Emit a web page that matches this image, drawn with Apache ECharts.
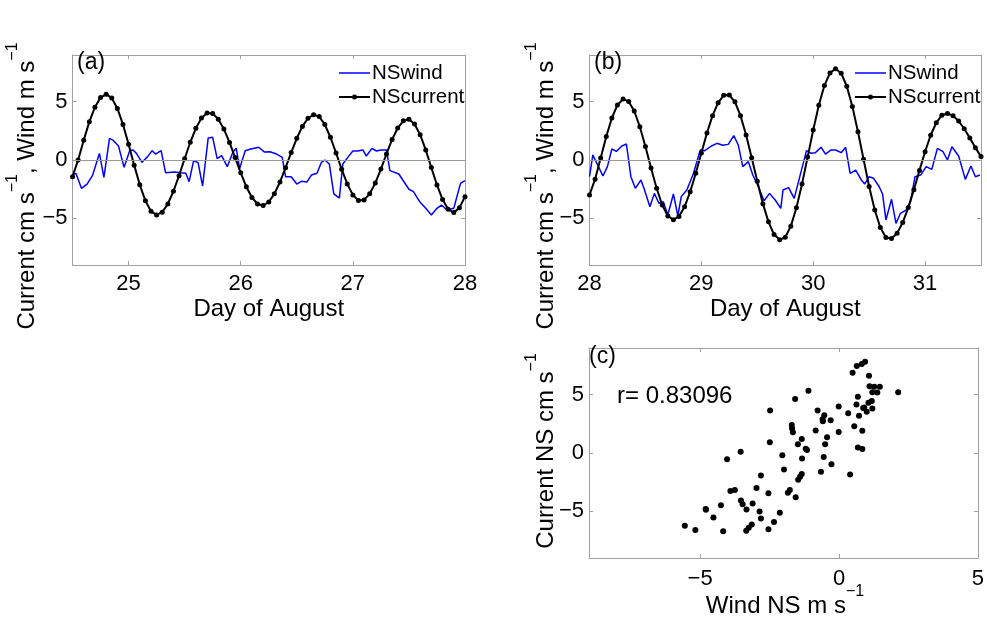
<!DOCTYPE html>
<html><head><meta charset="utf-8">
<script src="https://cdn.jsdelivr.net/npm/echarts@6/dist/echarts.min.js"></script>
<style>html,body{margin:0;padding:0;background:#fff}#c{width:987px;height:623px}</style>
</head><body><div id="c"></div>
<script>
// ---------------- data ----------------
// Panel (a): 24.5 - 28 August
const curA_start = 24.5;
const curStep = 0.05; // days between current samples
const curA = [-1.43,0.00,1.70,3.27,4.53,5.35,5.63,5.32,4.42,3.05,1.36,-0.44,-2.13,-3.50,-4.40,-4.71,-4.47,-3.77,-2.68,-1.34,0.11,1.52,2.72,3.59,4.02,3.98,3.50,2.65,1.51,0.21,-1.10,-2.29,-3.21,-3.77,-3.90,-3.60,-2.90,-1.89,-0.66,0.64,1.86,2.88,3.58,3.88,3.72,3.04,1.95,0.61,-0.79,-2.05,-2.99,-3.47,-3.42,-2.90,-1.98,-0.78,0.52,1.76,2.74,3.36,3.50,3.09,2.17,0.86,-0.65,-2.14,-3.39,-4.22,-4.51,-4.10,-3.14];
const windA_day = [24.50,24.53,24.58,24.63,24.68,24.74,24.78,24.83,24.86,24.91,24.96,25.01,25.04,25.07,25.12,25.17,25.21,25.24,25.29,25.33,25.41,25.46,25.51,25.54,25.58,25.62,25.66,25.71,25.75,25.79,25.83,25.88,25.93,25.96,25.99,26.04,26.09,26.16,26.21,26.26,26.32,26.37,26.40,26.45,26.50,26.54,26.59,26.63,26.68,26.72,26.75,26.79,26.83,26.88,26.91,26.96,27.00,27.04,27.09,27.12,27.17,27.21,27.25,27.30,27.33,27.41,27.50,27.54,27.60,27.65,27.70,27.75,27.79,27.84,27.90,27.96,28.00];
const windA = [-1.29,-1.14,-2.43,-2.06,-1.29,0.57,-1.49,1.86,1.71,1.20,-0.63,0.80,0.86,0.57,-0.20,0.29,0.80,0.51,0.80,-1.09,-1.03,-1.09,-1.14,-1.86,-0.06,-0.23,-2.23,1.89,1.94,0.11,0.37,-0.57,0.66,1.00,-0.74,0.80,0.94,1.09,0.69,0.71,0.51,0.23,-1.43,-1.43,-2.06,-1.83,-1.89,-1.29,-1.14,-0.20,0.00,-0.34,-2.91,-3.26,-0.34,0.29,0.77,0.77,0.86,0.34,1.00,0.77,0.86,0.86,-0.91,-1.20,-2.51,-2.71,-3.63,-4.14,-4.71,-4.14,-3.86,-4.29,-4.14,-2.00,-1.77];

// Panel (b): 28 - 31.5 August
const curB_start = 28.0;
const curB = [-3.00,-1.64,0.17,2.01,3.60,4.72,5.22,5.02,4.20,2.85,1.15,-0.68,-2.42,-3.86,-4.79,-5.12,-4.84,-4.01,-2.73,-1.14,0.60,2.31,3.80,4.91,5.54,5.57,4.99,3.80,2.14,0.20,-1.83,-3.74,-5.30,-6.39,-6.84,-6.62,-5.67,-4.09,-2.05,0.25,2.57,4.69,6.38,7.46,7.83,7.44,6.32,4.59,2.42,0.06,-2.27,-4.28,-5.79,-6.65,-6.73,-6.28,-5.36,-4.08,-2.54,-0.89,0.71,2.12,3.19,3.84,3.99,3.80,3.34,2.68,1.89,1.06,0.29];
const windB_day = [28.00,28.03,28.08,28.12,28.16,28.20,28.24,28.29,28.33,28.37,28.41,28.46,28.49,28.54,28.58,28.62,28.66,28.70,28.75,28.79,28.82,28.87,28.93,28.99,29.03,29.09,29.14,29.19,29.24,29.29,29.33,29.37,29.42,29.46,29.51,29.56,29.61,29.66,29.71,29.73,29.78,29.83,29.88,29.94,29.98,30.02,30.07,30.11,30.16,30.20,30.25,30.29,30.33,30.38,30.43,30.46,30.50,30.54,30.59,30.62,30.65,30.70,30.74,30.78,30.83,30.87,30.91,30.96,31.01,31.06,31.11,31.16,31.20,31.24,31.30,31.36,31.41,31.45,31.49];
const windB = [-1.43,0.43,-0.57,-1.37,-0.57,0.94,0.74,1.20,1.37,-1.43,-2.43,-1.71,-2.51,-4.00,-2.86,-3.71,-3.57,-4.71,-2.91,-4.80,-3.14,-2.57,-1.14,0.86,0.80,1.20,1.43,1.26,1.34,2.09,1.29,-0.57,-0.14,-1.29,-2.29,-3.49,-2.86,-3.43,-4.14,-2.57,-2.37,-3.29,-1.43,0.80,0.57,0.63,1.09,0.51,0.86,0.86,0.63,1.09,-1.14,-0.86,-1.71,-2.06,-1.43,-1.57,-2.29,-2.91,-5.14,-3.37,-5.43,-4.57,-4.29,-3.57,-1.43,-1.29,-0.57,-0.80,1.00,0.71,0.00,1.14,0.34,-1.66,-0.51,-1.43,-1.29];

// Panel (c): scatter wind vs current
const windNS = [-5.55,-5.17,-4.80,-4.79,-4.52,-4.25,-4.17,-4.03,-3.91,-3.75,-3.54,-3.53,-3.47,-3.33,-3.11,-3.34,-3.25,-3.14,-2.97,-2.86,-2.81,-2.81,-2.54,-2.54,-2.34,-2.48,-2.49,-2.13,-2.04,-1.98,-1.84,-1.77,-1.70,-1.69,-1.66,-1.58,-1.56,-1.48,-1.47,-1.40,-1.34,-1.34,-1.33,-1.20,-1.15,-1.10,-0.84,-0.77,-0.65,-0.59,-0.58,-0.53,-0.50,-0.55,-0.43,-0.30,-0.27,-0.01,-0.01,0.33,0.40,0.49,0.55,0.64,0.68,0.63,0.68,0.72,0.82,0.87,0.84,0.91,0.84,0.94,1.00,1.06,1.08,1.10,1.18,1.20,1.20,1.27,1.38,1.47,2.13];
const currentNS = [-6.23,-6.60,-4.79,-4.87,-5.52,-4.48,-6.71,-0.54,-3.26,-3.17,0.11,-4.08,-4.39,-4.84,-4.33,-6.66,-6.40,-6.12,-3.00,-5.01,-5.61,-1.93,-3.46,-6.54,-5.92,3.65,0.93,-5.13,-0.20,-1.42,-3.40,-3.17,2.41,2.12,1.78,4.62,-3.80,0.76,-2.29,-2.04,-1.81,1.19,-0.48,0.37,0.25,5.33,1.93,3.65,-1.61,2.89,2.72,3.23,0.76,-0.34,1.36,2.80,-0.96,3.99,1.81,3.40,-1.84,6.88,2.29,7.45,4.82,4.16,0.48,3.20,7.62,3.85,0.34,3.91,1.90,7.82,3.54,4.31,6.63,5.72,4.45,3.82,5.21,5.67,5.18,5.67,5.21];

// tick labels and texts
const ticksA = [25, 26, 27, 28];
const ticksB = [28, 29, 30, 31];
const ticksY = [-5, 0, 5];
const ticksCx = [-5, 0, 5];
const corrText = 'r= 0.83096';
const legendNames = ['NSwind', 'NScurrent'];

// ---------------- build ----------------
const FF = '"Liberation Sans", Arial, sans-serif';
const FRAME = '#a0a0a0';
const WIND_C = '#0000ff';
const fmt = v => (v < 0 ? '\u2212' + Math.abs(v) : String(v));

function timeSeries(start, vals) { return vals.map((v, i) => [+(start + i * curStep).toFixed(3), v]); }
function pairs(xs, ys) { return xs.map((x, i) => [x, ys[i]]); }

function axis(gridIndex, min, max, ticks, position, showLabel, margin) {
  return {
    type: 'value', gridIndex, min, max, position,
    axisLine: { show: true, onZero: false, lineStyle: { color: FRAME, width: 1 } },
    axisTick: { show: true, inside: true, length: 4, customValues: ticks, lineStyle: { color: FRAME } },
    axisLabel: { show: showLabel, customValues: ticks, formatter: fmt, color: '#000', fontSize: 22, fontFamily: FF, margin: margin },
    splitLine: { show: false }
  };
}

const grids = [
  { left: 72.5, top: 55, width: 392.5, height: 210 },
  { left: 589.5, top: 55, width: 391.5, height: 210 },
  { left: 589, top: 348, width: 392.5, height: 210 }
];

const xAxes = [
  axis(0, 24.5, 28, ticksA, 'bottom', true, 8), axis(0, 24.5, 28, ticksA, 'top', false, 8),
  axis(1, 28, 31.5, ticksB, 'bottom', true, 8), axis(1, 28, 31.5, ticksB, 'top', false, 8),
  axis(2, -9, 5, ticksCx, 'bottom', true, 10), axis(2, -9, 5, ticksCx, 'top', false, 8)
];
const yAxes = [
  axis(0, -9, 9, ticksY, 'left', true, 5), axis(0, -9, 9, ticksY, 'right', false, 5),
  axis(1, -9, 9, ticksY, 'left', true, 5), axis(1, -9, 9, ticksY, 'right', false, 5),
  axis(2, -9, 9, ticksY, 'left', true, 5), axis(2, -9, 9, ticksY, 'right', false, 5)
];

const zeroLine = {
  silent: true, symbol: ['none', 'none'], label: { show: false },
  lineStyle: { color: '#999', width: 1, type: 'solid' },
  data: [{ yAxis: 0 }]
};

function windSeries(xi, yi, data) {
  return { name: legendNames[0], type: 'line', xAxisIndex: xi, yAxisIndex: yi, data, showSymbol: false, symbol: 'none',
    lineStyle: { color: WIND_C, width: 1.5 }, itemStyle: { color: WIND_C }, markLine: zeroLine, z: 2 };
}
function curSeries(xi, yi, data) {
  return { name: legendNames[1], type: 'line', xAxisIndex: xi, yAxisIndex: yi, data, symbol: 'circle', symbolSize: 5,
    lineStyle: { color: '#000', width: 2 }, itemStyle: { color: '#000' }, z: 3 };
}

const series = [
  windSeries(0, 0, pairs(windA_day, windA)),
  curSeries(0, 0, timeSeries(curA_start, curA)),
  windSeries(2, 2, pairs(windB_day, windB)),
  curSeries(2, 2, timeSeries(curB_start, curB)),
  { name: 'scatter', type: 'scatter', xAxisIndex: 4, yAxisIndex: 4, data: pairs(windNS, currentNS),
    symbol: 'circle', symbolSize: 6, itemStyle: { color: '#000', opacity: 1 } }
];

const rich = {
  n: { fontSize: 24, fontFamily: FF, lineHeight: 34, verticalAlign: 'bottom', fill: '#000' },
  s: { fontSize: 16, fontFamily: FF, lineHeight: 16, verticalAlign: 'top', fill: '#000' }
};
function txt(x, y, text, size, align, rot) {
  return { type: 'text', x, y, rotation: rot || 0, silent: true, z: 10,
    style: { text, fontSize: size, fontFamily: FF, fill: '#000', align: align || 'left', verticalAlign: 'middle', rich } };
}
// legend drawn as graphic marks (line sample + text)
function legendGraphics(x0) {
  const len = 31, y1 = 73, y2 = 97;
  return [
    { type: 'line', silent: true, z: 10, shape: { x1: x0, y1: y1, x2: x0 + len, y2: y1 }, style: { stroke: WIND_C, lineWidth: 1.5 } },
    txt(x0 + len + 2, y1, legendNames[0], 20.5),
    { type: 'line', silent: true, z: 10, shape: { x1: x0, y1: y2, x2: x0 + len, y2: y2 }, style: { stroke: '#000', lineWidth: 2 } },
    { type: 'circle', silent: true, z: 11, shape: { cx: x0 + len / 2, cy: y2, r: 2.5 }, style: { fill: '#000' } },
    txt(x0 + len + 2, y2, legendNames[1], 20.5)
  ];
}

const graphic = [
  txt(77, 63, '(a)', 23), txt(594, 63, '(b)', 23), txt(589, 357, '(c)', 23),
  txt(617, 396, corrText, 24),
  txt(268.75, 309, 'Day of August', 24, 'center'),
  txt(785.25, 309, 'Day of August', 24, 'center'),
  txt(785, 601, '{n|Wind NS m s}{s|\u22121}', 24, 'center'),
  txt(22, 186, '{n|Current cm s}{s|\u22121}{n|, Wind m s}{s|\u22121}', 24, 'center', Math.PI / 2),
  txt(541, 186, '{n|Current cm s}{s|\u22121}{n|, Wind m s}{s|\u22121}', 24, 'center', Math.PI / 2),
  txt(541, 451, '{n|Current NS cm s}{s|\u22121}', 24, 'center', Math.PI / 2)
].concat(legendGraphics(339), legendGraphics(855));

const chart = echarts.init(document.getElementById('c'), null, { renderer: 'canvas' });
chart.setOption({
  animation: false,
  backgroundColor: '#fff',
  grid: grids,
  xAxis: xAxes,
  yAxis: yAxes,
  series,
  graphic
});
</script>
</body></html>
